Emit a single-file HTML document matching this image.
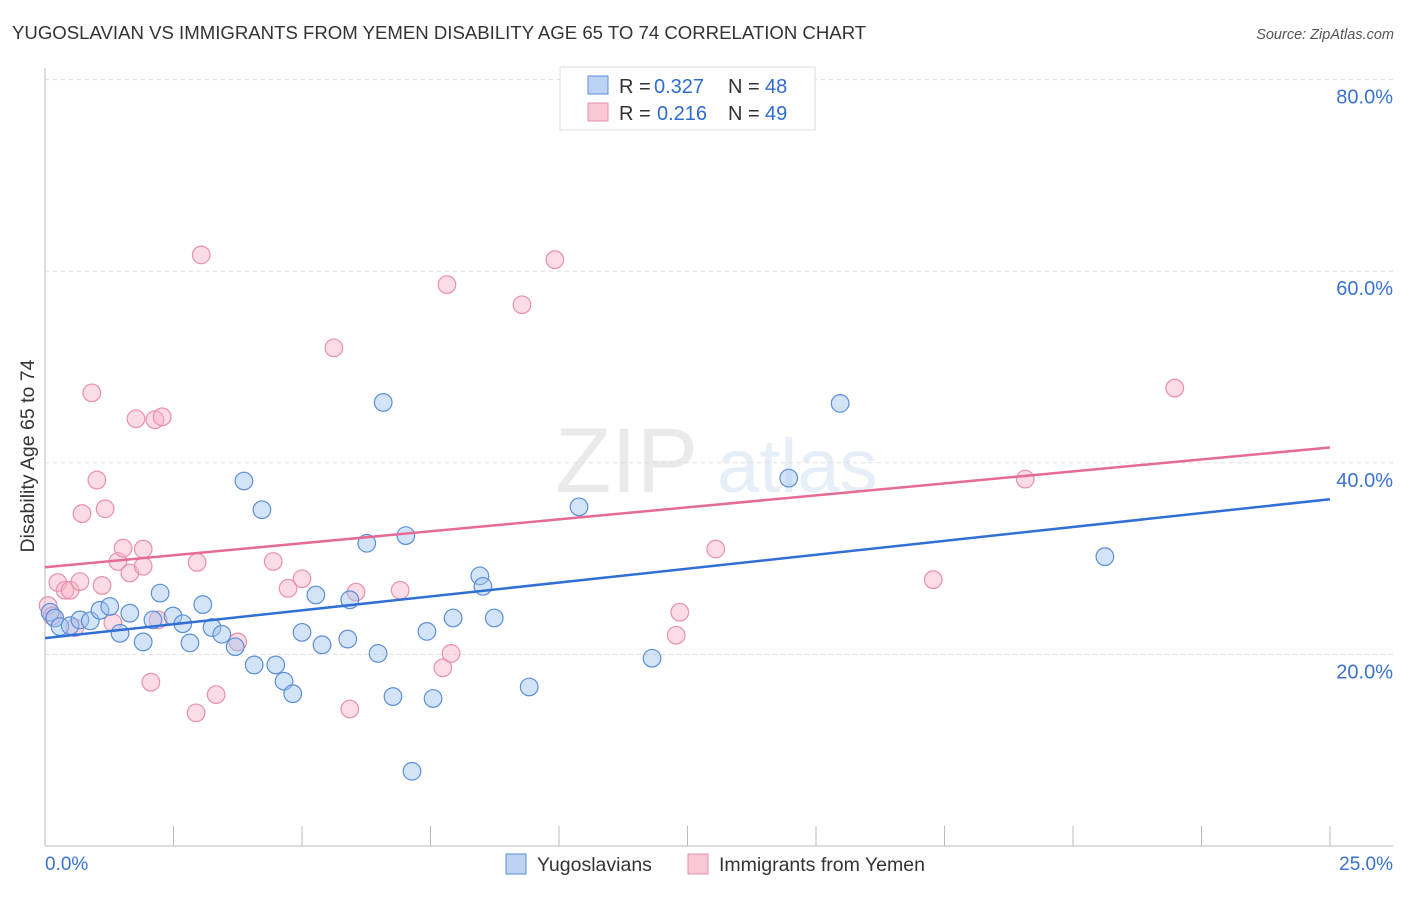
<!DOCTYPE html>
<html><head><meta charset="utf-8"><style>
body{margin:0;background:#fff;font-family:"Liberation Sans",sans-serif}
svg text{font-family:"Liberation Sans",sans-serif}
</style></head><body>
<svg width="1406" height="892" viewBox="0 0 1406 892">
<text x="12" y="39" font-size="18.6" fill="#333">YUGOSLAVIAN VS IMMIGRANTS FROM YEMEN DISABILITY AGE 65 TO 74 CORRELATION CHART</text>
<text x="1394" y="39" font-size="14.5" fill="#555" font-style="italic" text-anchor="end">Source: ZipAtlas.com</text>
<g opacity="0.13">
<text x="555" y="492" font-family="Liberation Serif,serif" font-size="92" fill="#666">ZIP</text>
<text x="717" y="492" font-size="76" fill="#4a80d0">atlas</text>
</g>
<g id="grid"></g>
<g id="axes"></g>
<g id="marks"></g>
<text transform="translate(34,456) rotate(-90)" font-size="19.5" fill="#333" text-anchor="middle">Disability Age 65 to 74</text>
<g>
<rect x="560" y="67" width="255" height="63" fill="#fff" stroke="#ddd"/>
<rect x="588" y="76" width="20" height="18" fill="#bcd3f3" stroke="#5b8fd8"/>
<rect x="588" y="103" width="20" height="18" fill="#f9c6d5" stroke="#e890aa"/>
<text x="619" y="93" font-size="20" fill="#333">R =</text>
<text x="654" y="93" font-size="20" fill="#2f6cd0">0.327</text>
<text x="728" y="93" font-size="20" fill="#333">N =</text>
<text x="765" y="93" font-size="20" fill="#2f6cd0">48</text>
<text x="619" y="120" font-size="20" fill="#333">R =</text>
<text x="657" y="120" font-size="20" fill="#2f6cd0">0.216</text>
<text x="728" y="120" font-size="20" fill="#333">N =</text>
<text x="765" y="120" font-size="20" fill="#2f6cd0">49</text>
</g>
<g>
<rect x="506" y="854" width="20" height="20" fill="#bcd3f3" stroke="#5b8fd8"/>
<text x="537" y="871" font-size="19.5" fill="#333">Yugoslavians</text>
<rect x="688" y="854" width="20" height="20" fill="#f9c6d5" stroke="#e890aa"/>
<text x="719" y="871" font-size="19.5" fill="#333">Immigrants from Yemen</text>
</g>
</svg>
<script>
const xTicks=[0,25];
const yTicks=[20,40,60,80];
const blueX=[0.10,0.19,0.29,0.49,0.68,0.88,1.07,1.26,1.46,1.65,1.91,2.10,2.24,2.49,2.68,2.82,3.07,3.25,3.44,3.70,3.87,4.07,4.22,4.49,4.65,4.82,5.00,5.27,5.39,5.93,5.89,6.26,6.48,6.58,6.77,7.02,7.14,7.43,7.55,7.94,8.46,8.52,8.74,9.42,10.39,11.81,14.47,15.47,20.62];
const blueY=[24.4,23.8,22.9,23.0,23.6,23.5,24.6,25.0,22.2,24.3,21.3,23.6,26.4,24.0,23.2,21.2,25.2,22.8,22.1,20.8,38.1,18.9,35.1,18.9,17.2,15.9,22.3,26.2,21.0,25.7,21.6,31.6,20.1,46.3,15.6,32.4,7.8,22.4,15.4,23.8,28.2,27.1,23.8,16.6,35.4,19.6,38.4,46.2,30.2];
const pinkX=[0.06,0.14,0.25,0.39,0.49,0.58,0.68,0.72,0.91,1.01,1.11,1.17,1.32,1.42,1.52,1.65,1.77,1.91,1.91,2.06,2.14,2.20,2.28,2.94,2.96,3.04,3.33,3.75,4.44,4.73,5.00,5.62,5.93,6.05,6.91,7.74,7.82,7.90,9.28,9.92,12.28,12.35,13.05,17.28,19.07,21.98];
const pinkY=[25.1,24.0,27.5,26.7,26.7,22.8,27.6,34.7,47.3,38.2,27.2,35.2,23.3,29.7,31.1,28.5,44.6,31.0,29.2,17.1,44.5,23.6,44.8,13.9,29.6,61.7,15.8,21.3,29.7,26.9,27.9,52.0,14.3,26.5,26.7,18.6,58.6,20.1,56.5,61.2,22.0,24.4,31.0,27.8,38.3,47.8];
const blueTrend=[21.7,36.2];
const pinkTrend=[29.1,41.6];
const NS='http://www.w3.org/2000/svg';
const sx=v=>45+v/25*1285;
const sy=v=>846-v*9.58;
function mk(p,t,a){const e=document.createElementNS(NS,t);for(const k in a)e.setAttribute(k,a[k]);p.appendChild(e);return e;}
const grid=document.getElementById('grid'),axes=document.getElementById('axes'),marks=document.getElementById('marks');
yTicks.forEach(v=>{
 const l=mk(grid,'line',{x1:45,x2:1393,y1:sy(v),y2:sy(v),stroke:'#ddd','stroke-dasharray':'4,4'});
 
 
 const t=mk(axes,'text',{x:1393,y:sy(v)+24,'font-size':20,fill:'#3a72cf','text-anchor':'end'});
 t.textContent=v.toFixed(1)+'%';
 
 
});
mk(axes,'line',{x1:45,x2:45,y1:68,y2:846,stroke:'#bbb'});
mk(axes,'line',{x1:45,x2:1393,y1:846,y2:846,stroke:'#bbb'});
for(let i=1;i<=10;i++){const x=sx(i*2.5);mk(axes,'line',{x1:x,x2:x,y1:826,y2:846,stroke:'#bbb'});}
xTicks.forEach((v,i)=>{
 const t=mk(axes,'text',{x:i?1393:45,y:870,'font-size':19,fill:'#3a72cf','text-anchor':i?'end':'start'});
 t.textContent=v.toFixed(1)+'%';
 
 
});
function pts(X,Y,fill,stroke,name){X.forEach((x,i)=>{
 const c=mk(marks,'circle',{cx:sx(x),cy:sy(Y[i]),r:8.8,fill:fill,stroke:stroke,'stroke-width':1.2});
 
 
});}
pts(pinkX,pinkY,'rgba(246,178,199,0.45)','#e890aa','point-yemen');
pts(blueX,blueY,'rgba(160,195,240,0.45)','#5b8fd8','point-yugoslavian');
const bl=mk(marks,'line',{x1:sx(0),y1:sy(blueTrend[0]),x2:sx(25),y2:sy(blueTrend[1]),stroke:'#2f6fd6','stroke-width':2.5});


const pl=mk(marks,'line',{x1:sx(0),y1:sy(pinkTrend[0]),x2:sx(25),y2:sy(pinkTrend[1]),stroke:'#e56b93','stroke-width':2.5});


</script>
</body></html>
